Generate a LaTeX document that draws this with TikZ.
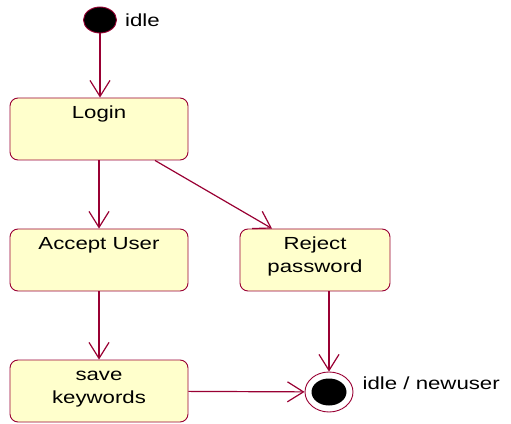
\documentclass[tikz,border=0pt]{standalone}
\usepackage{fontspec}
\newfontfamily\umlfont[FakeStretch=1.27]{Liberation Sans}
\usepackage{tikz}
\usetikzlibrary{positioning,shapes,arrows.meta}
\definecolor{umlred}{RGB}{153,0,51}
\definecolor{umlfill}{RGB}{255,255,204}
\newcommand{\stname}[1]{\parbox[c][62pt][t]{170pt}{\centering\vspace*{4pt}\strut #1}}
\tikzset{
	state/.style={
		rectangle,
		rounded corners=8pt,
		draw=umlred,
		fill=umlfill,
		line width=0.9pt,
		inner sep=0pt,
		minimum width=178pt,
		minimum height=62pt
	},
	startstate/.style={
		ellipse,
		draw=umlred,
		fill=black,
		line width=0.9pt,
		minimum width=33pt,
		minimum height=26pt
	},
	stopstate/.style={
		ellipse,
		draw=umlred,
		fill=white,
		line width=0.9pt,
		minimum width=48pt,
		minimum height=40pt,
		path picture={\fill[black] (path picture bounding box.center) ellipse (17.5pt and 13.5pt);}
	},
	trans/.style={
		draw=umlred,
		line width=1.2pt,
		-{Straight Barb[length=16pt,width=20pt,line width=1.2pt]}
	},
	tag/.style={inner sep=0pt}
}

\begin{document}
\begin{tikzpicture}[x=1pt, y=1pt, font=\umlfont\fontsize{17.5}{23}\selectfont]
	\useasboundingbox (0,0) rectangle (511,423);
	\node [startstate] (start) at (100,403) {};
	\node [tag, right=8pt of start] (idle) {idle};
	\node [state] (login) at (99,294) {\stname{Login}};
	\node [state] (accept) at (99,163) {\stname{Accept User}};
	\node [state, minimum width=150pt] (reject) at (315,163) {\parbox[c][62pt][t]{146pt}{\centering\vspace*{4pt}\strut Reject\\password}};
	\node [state] (save) at (99,32) {\stname{save\\keywords}};
	\node [stopstate] (stop) at (329,31) {};
	\node [tag, anchor=base west] (idlenew) at ([xshift=9pt, yshift=3pt]stop.east) {idle / newuser};

	\draw [trans] (start) -- (login.north -| start);
	\draw [trans] (login) -- (accept);
	\draw [trans] ([xshift=56pt]login.south) -- ([xshift=-43pt]reject.north);
	\draw [trans] (accept) -- (save);
	\draw [trans] (reject.south -| stop) -- (stop);
	\draw [trans] (save) -- (stop);
\end{tikzpicture}
\end{document}
